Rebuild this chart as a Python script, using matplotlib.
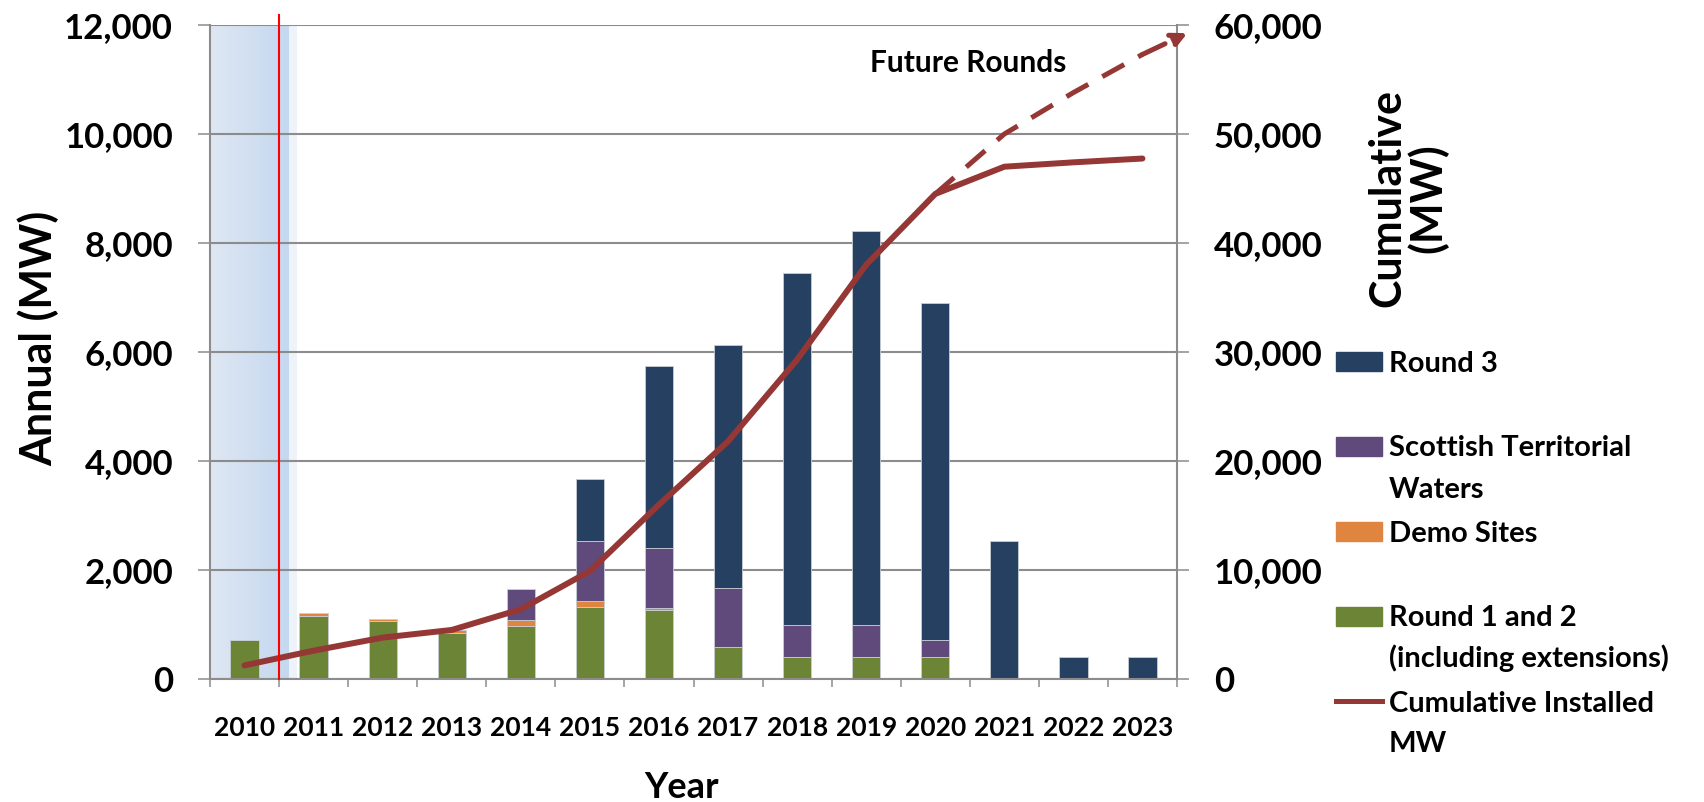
import numpy as np
import matplotlib
matplotlib.use("Agg")
import matplotlib.pyplot as plt
from matplotlib.patches import Rectangle
from matplotlib.lines import Line2D
from matplotlib.ticker import FuncFormatter
from matplotlib.colors import LinearSegmentedColormap

plt.rcParams['font.family'] = ['Lato', 'DejaVu Sans']
plt.rcParams['font.weight'] = 'bold'

# data (MW)
years = [2010, 2011, 2012, 2013, 2014, 2015, 2016, 2017, 2018, 2019, 2020, 2021, 2022, 2023]
round12 = [720, 1160, 1065, 850, 975, 1330, 1265, 590, 400, 400, 400, 0, 0, 0]
demo = [0, 45, 40, 50, 100, 100, 40, 0, 0, 0, 0, 0, 0, 0]
scottish = [0, 0, 0, 0, 575, 1095, 1095, 1075, 590, 585, 316, 0, 0, 0]
round3 = [0, 0, 0, 0, 0, 1140, 3350, 4455, 6465, 7240, 6190, 2540, 400, 400]
cumulative = [1250, 2600, 3800, 4500, 6400, 9900, 16000, 21800, 29300, 38000, 44500, 47000, 47400, 47750]
future_years = [2020, 2021, 2022, 2023, 2023.65]
future_cumulative = [44500, 50000, 53800, 57300, 59250]

c_r3 = '#264061'
c_sc = '#604a7b'
c_demo = '#e0853f'
c_r12 = '#6b8436'
c_line = '#953735'
c_grid = '#8c8c8c'

W, H = 1704, 802
fig = plt.figure(figsize=(W / 100, H / 100), dpi=100)
ax = fig.add_axes([210 / W, 1 - 679 / H, (1177 - 210) / W, (679 - 25) / H])
ax2 = ax.twinx()

x = np.arange(len(years))
ax.set_ylim(0, 12000)
ax2.set_ylim(0, 60000)

# shaded "historic" band with gradient
grad = np.linspace(0, 1, 64).reshape(1, -1)
cm = LinearSegmentedColormap.from_list('sh', ['#dfe7f3', '#c4d8ef'])
ax.imshow(grad, cmap=cm, extent=[-0.5, 0.645, 0, 12000], aspect='auto', zorder=0)
ax.axvspan(0.645, 0.755, color='#eef3fa', zorder=0, lw=0)
ax.set_xlim(-0.5, len(years) - 0.5)

ax.yaxis.grid(True, color=c_grid, lw=1.5)
ax.set_axisbelow(True)

w = 0.41
ekw = dict(edgecolor='#c8cdd4', linewidth=0.6, zorder=2)
bottom = np.zeros(len(years))
for vals, col in [(round12, c_r12), (demo, c_demo), (scottish, c_sc), (round3, c_r3)]:
    v = np.array(vals, dtype=float)
    ax.bar(x, v, w, bottom=bottom, color=col, **ekw)
    bottom += v

# cumulative lines
ax2.plot(x, cumulative, color=c_line, lw=4.3, solid_capstyle='round', zorder=3)
fx = np.array(future_years) - years[0]
ax2.plot(fx[:-1], future_cumulative[:-1], color=c_line, lw=3.6, ls=(0, (5, 3.2)), zorder=3, clip_on=False)
ax2.annotate('', xy=(fx[-1], future_cumulative[-1]), xytext=(fx[-2], future_cumulative[-2]),
             arrowprops=dict(arrowstyle='-|>', color=c_line, lw=3.6, ls=(0, (5, 3.2)),
                             mutation_scale=22, shrinkA=0, shrinkB=0), annotation_clip=False)
ax2.axvline(0.5, ymin=0, ymax=1.015, color='red', lw=1.5, clip_on=False, zorder=4)

ax.text(9.05, 11300, 'Future Rounds', fontsize=21.5, fontweight='bold', va='center', ha='left')

# spines & ticks
for a in (ax, ax2):
    a.spines['top'].set_visible(False)
ax.spines['right'].set_visible(False)
ax2.spines['left'].set_visible(False)
ax2.spines['bottom'].set_visible(False)
for s in ['left', 'bottom']:
    ax.spines[s].set_color(c_grid)
    ax.spines[s].set_linewidth(1.5)
ax2.spines['right'].set_color(c_grid)
ax2.spines['right'].set_linewidth(1.5)

fmt = FuncFormatter(lambda v, p: f'{int(v):,}')
ax.set_yticks(np.arange(0, 12001, 2000))
ax.yaxis.set_major_formatter(fmt)
ax2.set_yticks(np.arange(0, 60001, 10000))
ax2.yaxis.set_major_formatter(fmt)
ax.tick_params(axis='y', length=8.6, width=1.1, color=c_grid, pad=18, labelsize=25)
ax2.tick_params(axis='y', length=8.6, width=1.1, color=c_grid, pad=18, labelsize=25)

ax.set_xticks(x)
ax.set_xticklabels([str(y) for y in years])
ax.set_xticks(np.arange(-0.5, len(years), 1), minor=True)
ax.tick_params(axis='x', which='major', length=0, pad=27, labelsize=19)
ax.tick_params(axis='x', which='minor', length=6, width=1.1, color=c_grid)

def px(xp, yp):
    return xp / W, 1 - yp / H

fig.text(*px(38, 338), 'Annual (MW)', rotation=90, fontsize=31, fontweight='bold', ha='center', va='center')
fig.text(*px(1408, 198), 'Cumulative\n(MW)', rotation=90, fontsize=31, fontweight='bold',
         ha='center', va='center', linespacing=1.0, multialignment='center')
fig.text(*px(682, 788), 'Year', fontsize=26, fontweight='bold', ha='center', va='center')

# legend drawn manually
legend = [('patch', c_r3, ['Round 3']),
          ('patch', c_sc, ['Scottish Territorial', 'Waters']),
          ('patch', c_demo, ['Demo Sites']),
          ('patch', c_r12, ['Round 1 and 2', '(including extensions)']),
          ('line', c_line, ['Cumulative Installed', 'MW'])]
for i, (kind, col, lines) in enumerate(legend):
    yc = 361 + i * 85
    if kind == 'patch':
        fx0, fy0 = px(1336, yc + 9.5)
        fig.add_artist(Rectangle((fx0, fy0), 46 / W, 19 / H, transform=fig.transFigure, color=col))
    else:
        fig.add_artist(Line2D([1336 / W, 1382 / W], [1 - yc / H] * 2, transform=fig.transFigure,
                              color=col, lw=3.6))
    for j, t in enumerate(lines):
        fig.text(*px(1389, yc + 10.5 + j * 41), t, fontsize=21, fontweight='bold', ha='left', va='baseline')

fig.savefig('out.png', dpi=100)
